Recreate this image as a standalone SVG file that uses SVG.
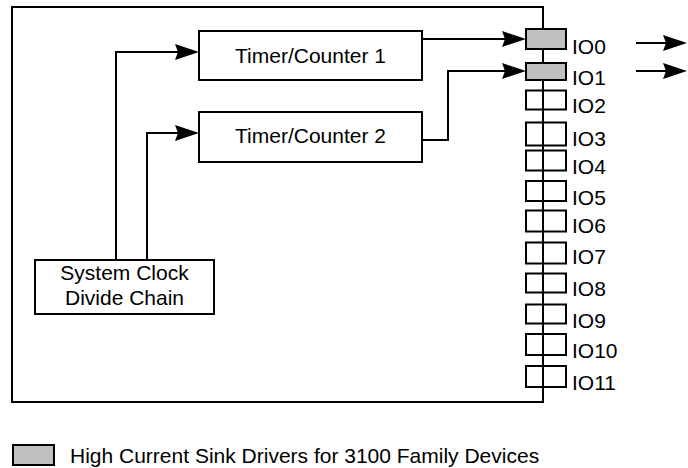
<svg xmlns="http://www.w3.org/2000/svg" width="688" height="468" viewBox="0 0 688 468">
<style>
.box{fill:#fff;stroke:#000;stroke-width:2}
.pin{fill:none;stroke:#000;stroke-width:2}
.hi{fill:#c0c0c0;stroke:#000;stroke-width:2}
.wire{fill:none;stroke:#000;stroke-width:2}
.arr{fill:none;stroke:#000;stroke-width:2;marker-end:url(#ah)}
text{font-family:"Liberation Sans",Arial,sans-serif;font-size:21px;fill:#000}
.c{text-anchor:middle}
</style>
<defs>
<marker id="ah" markerUnits="userSpaceOnUse" markerWidth="24" markerHeight="16" viewBox="0 0 24 16" refX="14" refY="8" orient="auto">
<path d="M0,0 L24,8 L0,16 L3,8 Z" fill="#000"/>
</marker>
</defs>
<g id="frame">
<rect x="12" y="7" width="531" height="395" fill="none" stroke="#000" stroke-width="2"/>
</g>
<g id="timer1">
<rect class="box" x="199" y="31" width="223" height="49"/>
<text class="c" x="310.5" y="62.5">Timer/Counter 1</text>
</g>
<g id="timer2">
<rect class="box" x="199" y="112" width="223" height="50"/>
<text class="c" x="310.5" y="142.5">Timer/Counter 2</text>
</g>
<g id="clock">
<rect class="box" x="35" y="260" width="179" height="54"/>
<text class="c" x="124.5" y="280">System Clock</text>
<text class="c" x="124.5" y="305">Divide Chain</text>
</g>
<g id="connectors">
<path class="arr" d="M116,260 V52 H189"/>
<path class="arr" d="M147,260 V133 H189"/>
<path class="arr" d="M422,39 H516"/>
<path class="arr" d="M422,140 H448 V71 H516"/>
<path class="arr" d="M636,43 H677"/>
<path class="arr" d="M636,71 H677"/>
</g>
<g id="io-pins">
<rect class="hi" x="526" y="29" width="40" height="20"/>
<rect class="hi" x="526" y="63" width="40" height="17"/>
<rect class="pin" x="526" y="90.5" width="40" height="19"/>
<rect class="pin" x="526" y="122.5" width="40" height="23"/>
<rect class="pin" x="526" y="150.5" width="40" height="20"/>
<rect class="pin" x="526" y="181" width="40" height="20"/>
<rect class="pin" x="526" y="210.5" width="40" height="21"/>
<rect class="pin" x="526" y="242.5" width="40" height="21"/>
<rect class="pin" x="526" y="273.5" width="40" height="19"/>
<rect class="pin" x="526" y="304.5" width="40" height="19"/>
<rect class="pin" x="526" y="334" width="40" height="21"/>
<rect class="pin" x="526" y="366" width="40" height="21"/>
</g>
<g id="io-labels">
<text x="572" y="54">IO0</text>
<text x="572" y="85">IO1</text>
<text x="572" y="112.5">IO2</text>
<text x="572" y="145.5">IO3</text>
<text x="572" y="174">IO4</text>
<text x="572" y="205">IO5</text>
<text x="572" y="232.5">IO6</text>
<text x="572" y="264">IO7</text>
<text x="572" y="296">IO8</text>
<text x="572" y="327.5">IO9</text>
<text x="572" y="358">IO10</text>
<text x="572" y="390">IO11</text>
</g>
<g id="legend">
<rect class="hi" x="13" y="445" width="41" height="20"/>
<text x="70" y="463">High Current Sink Drivers for 3100 Family Devices</text>
</g>
</svg>
